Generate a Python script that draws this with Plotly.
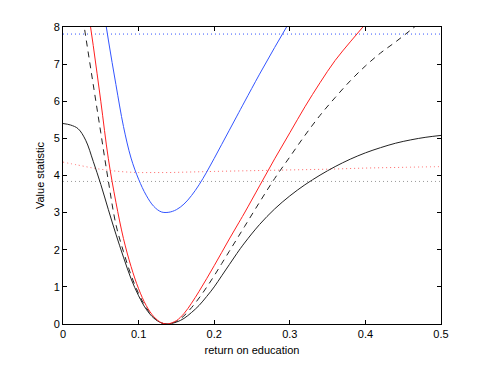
import plotly.graph_objects as go

# values
x_black = [0, 0.01, 0.02, 0.03, 0.04, 0.05, 0.06, 0.07, 0.08, 0.09, 0.10, 0.11, 0.12, 0.13, 0.137,
           0.15, 0.16, 0.17, 0.18, 0.19, 0.20, 0.21, 0.22, 0.23, 0.24, 0.26, 0.28, 0.30, 0.32,
           0.34, 0.36, 0.38, 0.40, 0.42, 0.44, 0.46, 0.48, 0.50]
y_black = [5.40, 5.36, 5.26, 4.95, 4.38, 3.76, 3.08, 2.42, 1.80, 1.22, 0.76, 0.40, 0.16, 0.03, 0.0,
           0.05, 0.15, 0.31, 0.50, 0.74, 1.00, 1.30, 1.60, 1.90, 2.18, 2.68, 3.10, 3.45, 3.75,
           4.01, 4.24, 4.44, 4.61, 4.75, 4.87, 4.96, 5.03, 5.08]

x_dashed = [0.02, 0.03, 0.04, 0.05, 0.06, 0.07, 0.08, 0.09, 0.10, 0.11, 0.12, 0.13, 0.137,
            0.15, 0.16, 0.17, 0.18, 0.19, 0.20, 0.21, 0.22, 0.23, 0.24, 0.26, 0.28, 0.30,
            0.32, 0.34, 0.36, 0.38, 0.40, 0.42, 0.44, 0.46, 0.48]
y_dashed = [9.10, 7.75, 6.45, 5.15, 3.85, 2.68, 1.95, 1.32, 0.82, 0.44, 0.18, 0.03, 0.0,
            0.07, 0.22, 0.44, 0.70, 0.99, 1.30, 1.63, 1.96, 2.29, 2.62, 3.28, 3.92, 4.50,
            5.08, 5.62, 6.10, 6.55, 6.95, 7.30, 7.60, 7.92, 8.25]

x_red = [0.02, 0.03, 0.04, 0.05, 0.06, 0.07, 0.08, 0.09, 0.10, 0.11, 0.12, 0.13, 0.137,
         0.14, 0.15, 0.16, 0.17, 0.18, 0.19, 0.20, 0.21, 0.22, 0.23, 0.24, 0.26, 0.28,
         0.30, 0.32, 0.34, 0.36, 0.38, 0.40, 0.42]
y_red = [10.3, 8.90, 7.50, 6.00, 4.45, 3.28, 2.30, 1.55, 0.95, 0.50, 0.20, 0.035, 0.0,
         0.006, 0.09, 0.28, 0.56, 0.88, 1.22, 1.57, 1.93, 2.29, 2.64, 2.99, 3.72, 4.45,
         5.15, 5.85, 6.50, 7.10, 7.60, 8.08, 8.55]

x_blue = [0.04, 0.05, 0.06, 0.07, 0.08, 0.09, 0.10, 0.11, 0.12, 0.13, 0.14,
          0.15, 0.16, 0.17, 0.18, 0.19, 0.20, 0.21, 0.22, 0.23, 0.24, 0.26, 0.28, 0.30, 0.32]
y_blue = [10.2, 8.95, 7.65, 6.45, 5.32, 4.47, 3.90, 3.47, 3.17, 3.02, 3.01,
          3.08, 3.23, 3.46, 3.75, 4.09, 4.46, 4.84, 5.22, 5.60, 5.98, 6.73, 7.45, 8.15, 8.85]

x_reddot = [0, 0.02, 0.04, 0.06, 0.08, 0.10, 0.12, 0.14, 0.16, 0.18, 0.20, 0.25, 0.30, 0.35, 0.40, 0.45, 0.50]
y_reddot = [4.36, 4.28, 4.20, 4.14, 4.10, 4.08, 4.08, 4.08, 4.09, 4.10, 4.11, 4.13, 4.15, 4.17, 4.20, 4.22, 4.24]

x_flat = [0, 0.5]
crit_1df = [3.84, 3.84]
crit_3df = [7.81, 7.81]

x_ticks = [0, 0.1, 0.2, 0.3, 0.4, 0.5]
x_labels = ["0", "0.1", "0.2", "0.3", "0.4", "0.5"]
y_ticks = [0, 1, 2, 3, 4, 5, 6, 7, 8]

fig = go.Figure()

def add(x, y, color, dash="solid", shape="spline"):
    fig.add_trace(go.Scatter(x=x, y=y, mode="lines", showlegend=False, hoverinfo="skip",
                             line=dict(color=color, width=1, dash=dash, shape=shape)))

add(x_flat, crit_3df, "#3355ff", "1px,3px", "linear")
add(x_flat, crit_1df, "#999999", "1px,3px", "linear")
add(x_reddot, y_reddot, "#ff6666", "1px,3px")
add(x_blue, y_blue, "#3355ff")
add(x_dashed, y_dashed, "#222222", "6px,5px")
add(x_black, y_black, "#222222")
add(x_red, y_red, "#ff2020")

axis_common = dict(showgrid=False, zeroline=False, showline=True, linecolor="black", linewidth=1,
                   mirror="ticks", ticks="inside", ticklen=4, tickcolor="black",
                   tickfont=dict(size=11, color="black"))

fig.update_xaxes(range=[0, 0.5], tickvals=x_ticks, ticktext=x_labels,
                 title=dict(text="return on education", font=dict(size=11, color="black"), standoff=7),
                 **axis_common)
fig.update_yaxes(range=[0, 8], tickvals=y_ticks,
                 title=dict(text="Value statistic", font=dict(size=11, color="black"), standoff=6),
                 **axis_common)

# the page body adds an 8px offset, so the figure is shrunk to keep the plot box in place
fig.update_layout(width=479, height=359, margin=dict(l=55, r=46, t=19, b=41),
                  plot_bgcolor="white", paper_bgcolor="white",
                  font=dict(family="Liberation Sans, Arial, sans-serif", size=11, color="black"))

fig.write_html("out.html")
